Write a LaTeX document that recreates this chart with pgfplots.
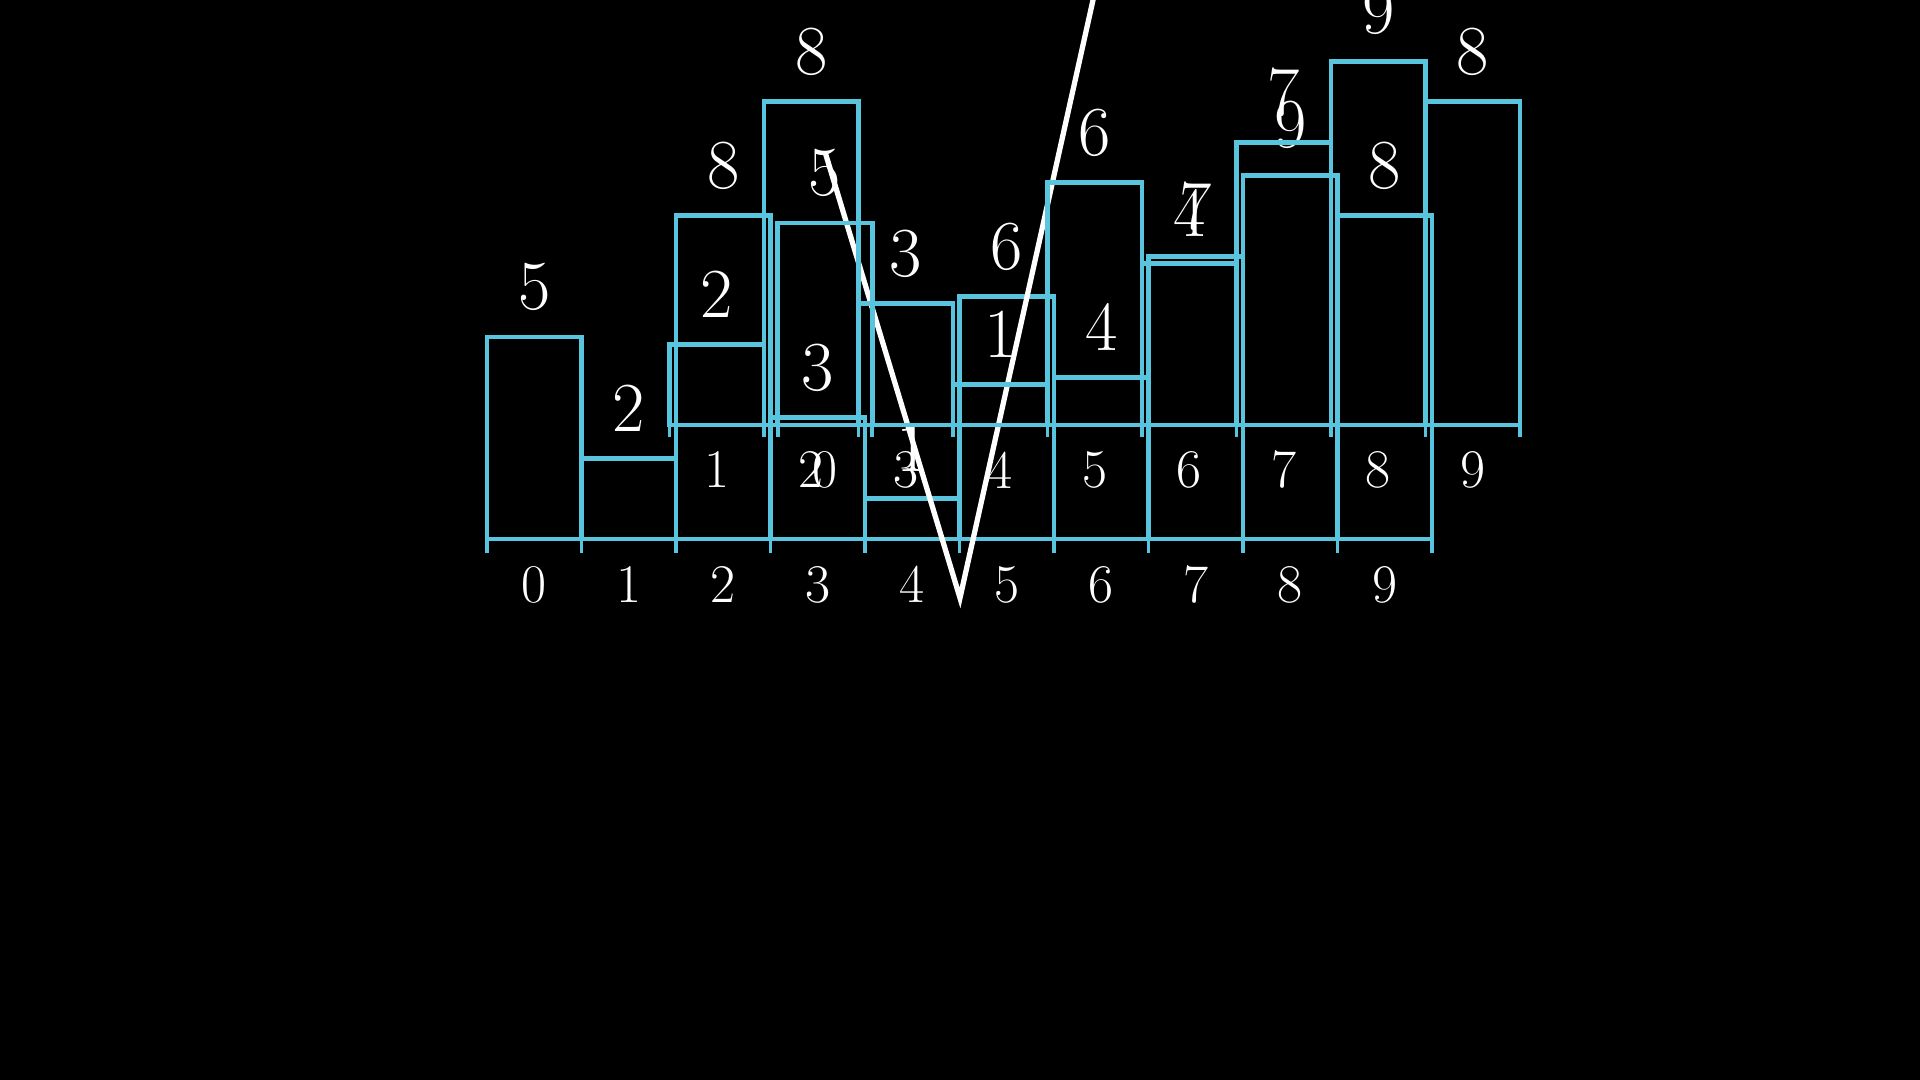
\documentclass[border=0pt]{standalone}
\usepackage{fontspec}
\usepackage{pgfplots}
\usepackage{pgfplotstable}
\pgfplotsset{compat=1.18}
\definecolor{mblue}{HTML}{58C4DD}

% Chart A: slot i spans [i,i+1], baseline 0
\pgfplotstableread{
x    v  lab idx
0.5  5  5   0
1.5  2  2   1
2.5  8  8   2
3.5  3  3   3
4.5  1  1   4
5.5  6  6   5
6.5  4  4   6
7.5  7  7   7
8.5  9  9   8
9.5  8  8   9
}\chartA

% Chart B: same values, shifted copy; bar 0 is in motion
\pgfplotstableread{
x      v  lab idx
2.6455 5  5   0
1.5    2  2   1
2.5    8  8   2
3.5    3  3   3
4.5    1  1   4
5.5    6  6   5
6.5    4  4   6
7.5    7  7   7
8.5    9  9   8
9.5    8  8   9
}\chartB

\pgfplotsset{
  frame/.style={hide axis, scale only axis, width=19.2cm, height=10.8cm,
    at={(0,0)}, anchor=south west, clip=true, enlargelimits=false},
  bars/.style={ybar, bar width=1, bar shift=0pt, draw=mblue, fill=none, line width=1.35pt},
  vallab/.style={draw=none, mark=none, nodes near coords, point meta=explicit symbolic,
    every node near coord/.append style={anchor=center, inner sep=0pt, text=white,
      font=\fontsize{20}{24}\selectfont}},
  ticklab/.style={draw=none, mark=none, nodes near coords, point meta=explicit symbolic,
    every node near coord/.append style={anchor=center, inner sep=0pt, text=white,
      font=\fontsize{15.5}{18}\selectfont}},
}

\begin{document}
\begin{tikzpicture}
\fill[black] (0,0) rectangle (19.2cm,10.8cm);

% ---- Chart A ----
\begin{axis}[frame, xmin=-5.1534, xmax=15.1640, ymin=-13.3911, ymax=13.3416]
\addplot[bars] table[x=x, y=v] {\chartA};
\addplot[mblue, line width=1.35pt] coordinates {(0,0) (10,0)};
\addplot[ycomb, mblue, line width=1pt] coordinates {(0,-0.34) (1,-0.34) (2,-0.34) (3,-0.34) (4,-0.34) (5,-0.34) (6,-0.34) (7,-0.34) (8,-0.34) (9,-0.34) (10,-0.34)};
\addplot[vallab] table[x=x, y expr=\thisrow{v}+1.24, meta=lab] {\chartA};
\addplot[ticklab] table[x=x, y expr=-1.13, meta=idx] {\chartA};
\addplot[white, line width=1.5pt] coordinates {(3.577,9.579) (5.005,-1.46) (6.554,14.827)};
\end{axis}

% ---- Chart B ----
\begin{axis}[frame, xmin=-6.0847, xmax=14.2328, ymin=-16.2129, ymax=10.5198]
\addplot[bars] table[x=x, y=v] {\chartB};
\addplot[mblue, line width=1.35pt] coordinates {(1,0) (10,0)};
\addplot[ycomb, mblue, line width=1pt] coordinates {(1,-0.3) (2,-0.3) (3,-0.3) (4,-0.3) (5,-0.3) (6,-0.3) (7,-0.3) (8,-0.3) (9,-0.3) (10,-0.3) (2.148,-0.3) (3.143,-0.3)};
\addplot[vallab] table[x=x, y expr=\thisrow{v}+1.24, meta=lab] {\chartB};
\addplot[ticklab] table[x=x, y expr=-1.11, meta=idx] {\chartB};
\end{axis}

\pgfresetboundingbox
\path[use as bounding box] (0,0) rectangle (19.2cm,10.8cm);
\end{tikzpicture}
\end{document}
